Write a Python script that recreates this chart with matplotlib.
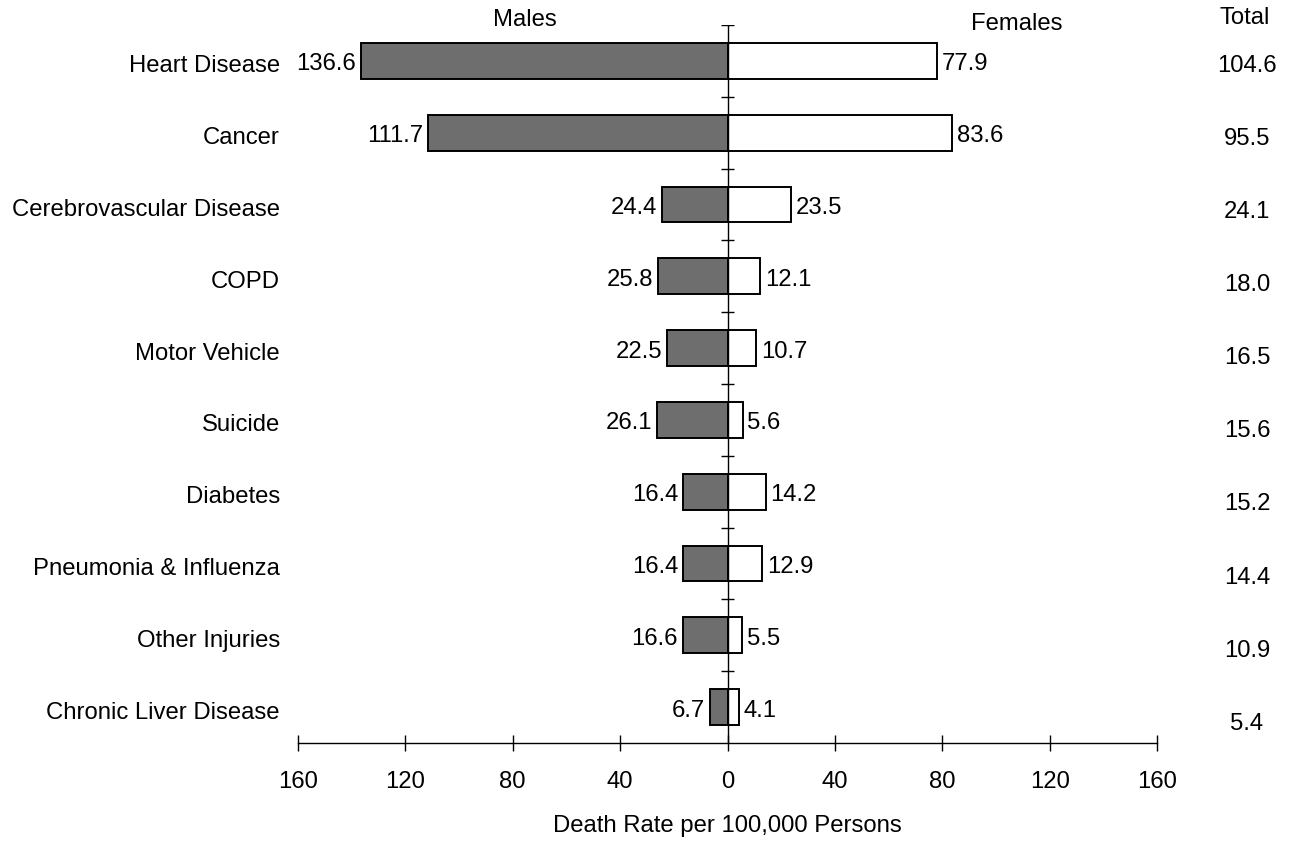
import numpy as np
import matplotlib.pyplot as plt
from matplotlib.ticker import FuncFormatter
import matplotlib.transforms as mtransforms

plt.rcParams['font.family'] = ['Liberation Sans', 'DejaVu Sans']

# Data
causes = ['Heart Disease', 'Cancer', 'Cerebrovascular Disease', 'COPD', 'Motor Vehicle',
          'Suicide', 'Diabetes', 'Pneumonia & Influenza', 'Other Injuries', 'Chronic Liver Disease']
males = [136.6, 111.7, 24.4, 25.8, 22.5, 26.1, 16.4, 16.4, 16.6, 6.7]
females = [77.9, 83.6, 23.5, 12.1, 10.7, 5.6, 14.2, 12.9, 5.5, 4.1]
totals = [104.6, 95.5, 24.1, 18.0, 16.5, 15.6, 15.2, 14.4, 10.9, 5.4]
xticks = [-160, -120, -80, -40, 0, 40, 80, 120, 160]

fs = 17.2
fig = plt.figure(figsize=(12.89, 8.46), dpi=100)
ax = fig.add_axes([298 / 1289, 1 - 743 / 846, 859 / 1289, (743 - 25) / 846])

y = np.arange(len(causes))
ax.barh(y, [-m for m in males], height=0.5, color='#6e6e6e', edgecolor='black', linewidth=1.4, zorder=2)
ax.barh(y, females, height=0.5, color='white', edgecolor='black', linewidth=1.4, zorder=2)

for i in range(len(causes)):
    ax.annotate(f'{males[i]:.1f}', (-males[i], i), xytext=(-3.5, -2.5), textcoords='offset points',
                ha='right', va='center', fontsize=fs)
    ax.annotate(f'{females[i]:.1f}', (females[i], i), xytext=(3.5, -2.5), textcoords='offset points',
                ha='left', va='center', fontsize=fs)

# totals column
trans = mtransforms.blended_transform_factory(fig.transFigure, ax.transData)
for i, t in enumerate(totals):
    ax.text(1247 / 1289, i + 0.07 + 0.018 * i, f'{t:.1f}', transform=trans,
            ha='center', va='center', fontsize=fs, clip_on=False)

ax.set_xlim(-160, 160)
ax.set_ylim(9.5, -0.5)

# center line with ticks between categories
ax.vlines(0, -0.5, 9.5, color='black', linewidth=1.0, zorder=3)
ax.hlines(np.arange(len(causes)) - 0.5, -2.6, 2.6, color='black', linewidth=1.0, zorder=3)

for s in ['top', 'right', 'left']:
    ax.spines[s].set_visible(False)
ax.spines['bottom'].set_linewidth(1.0)

ax.set_yticks(y)
ax.set_yticklabels(causes, fontsize=fs)
ax.tick_params(axis='y', length=0, pad=13)
for lbl in ax.get_yticklabels():
    lbl.set_transform(lbl.get_transform() + mtransforms.ScaledTranslation(0, -3 / 100, fig.dpi_scale_trans))

ax.set_xticks(xticks)
ax.xaxis.set_major_formatter(FuncFormatter(lambda v, p: f'{abs(v):.0f}'))
ax.tick_params(axis='x', direction='inout', length=12, width=1.0, pad=14, labelsize=fs)
ax.set_xlabel('Death Rate per 100,000 Persons', fontsize=fs, labelpad=16)

fig.text(525 / 1289, 1 - 20 / 846, 'Males', ha='center', va='center', fontsize=fs)
fig.text(1017 / 1289, 1 - 24 / 846, 'Females', ha='center', va='center', fontsize=fs)
fig.text(1245 / 1289, 1 - 18 / 846, 'Total', ha='center', va='center', fontsize=fs)

fig.savefig('out.png', dpi=100)
